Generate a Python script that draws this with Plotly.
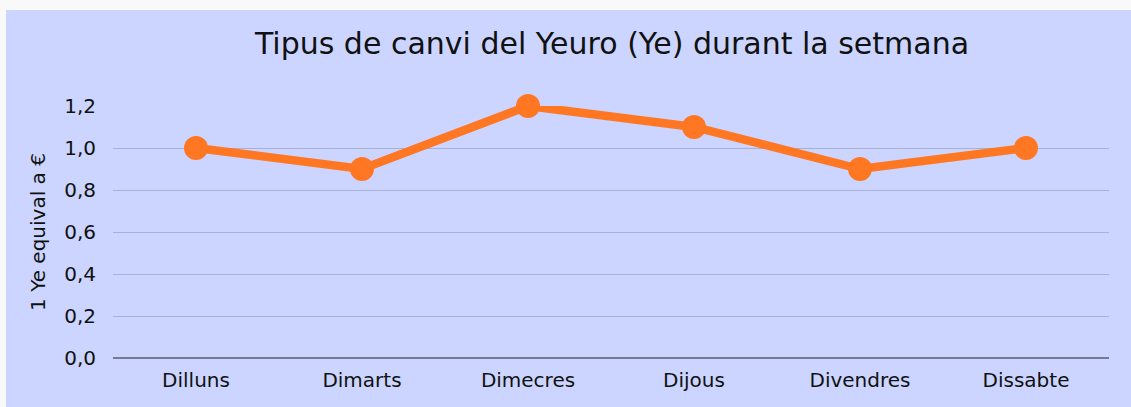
import plotly.graph_objects as go

days = ["Dilluns", "Dimarts", "Dimecres", "Dijous", "Divendres", "Dissabte"]
rates = [1.0, 0.9, 1.2, 1.1, 0.9, 1.0]
y_ticks = [0.0, 0.2, 0.4, 0.6, 0.8, 1.0, 1.2]
y_tick_labels = ["0,0", "0,2", "0,4", "0,6", "0,8", "1,0", "1,2"]

W, H = 1131, 407
L, R, T, B = 113, 22, 106, 49
pw, ph = W - L - R, H - T - B
BG = "#ccd5ff"

fig = go.Figure()
fig.add_trace(go.Scatter(
    x=days, y=rates, mode="lines+markers",
    line=dict(color="#ff7722", width=8.5),
    marker=dict(color="#ff7722", size=24),
    cliponaxis=False, showlegend=False,
))

font = "DejaVu Sans, sans-serif"
fig.update_layout(
    width=W, height=H,
    margin=dict(l=L, r=R, t=T, b=B, autoexpand=False),
    paper_bgcolor="#f9f9f9",
    plot_bgcolor=BG,
    title=dict(text="Tipus de canvi del Yeuro (Ye) durant la setmana",
               x=612 / W, xanchor="center", y=1 - 43 / H, yanchor="middle",
               font=dict(family=font, size=30, color="#111")),
    font=dict(family=font, color="#111"),
    shapes=[dict(type="rect", xref="paper", yref="paper", layer="below",
                 x0=(6 - L) / pw, x1=(W + 5 - L) / pw,
                 y0=-(B + 5) / ph, y1=(H - B - 10) / ph,
                 fillcolor=BG, line=dict(width=0))],
    xaxis=dict(range=[-0.5, 5.5], showgrid=False, showline=False, ticks="",
               ticklabelstandoff=8,
               tickfont=dict(size=20, color="#111")),
    yaxis=dict(range=[0, 1.2], tickvals=y_ticks, ticktext=y_tick_labels,
               showgrid=True, gridcolor="#a9b1d3", gridwidth=1.2,
               zeroline=True, zerolinecolor="#737a96", zerolinewidth=1.5,
               showline=False, ticks="", ticklabelstandoff=16,
               tickfont=dict(size=20, color="#111"),
               title=dict(text="1 Ye equival a €", standoff=13,
                          font=dict(size=20, color="#111"))),
)
fig.write_html("out.html", config={"displayModeBar": False},
               post_script="document.body.style.margin='0';document.body.style.background='#f9f9f9';")
